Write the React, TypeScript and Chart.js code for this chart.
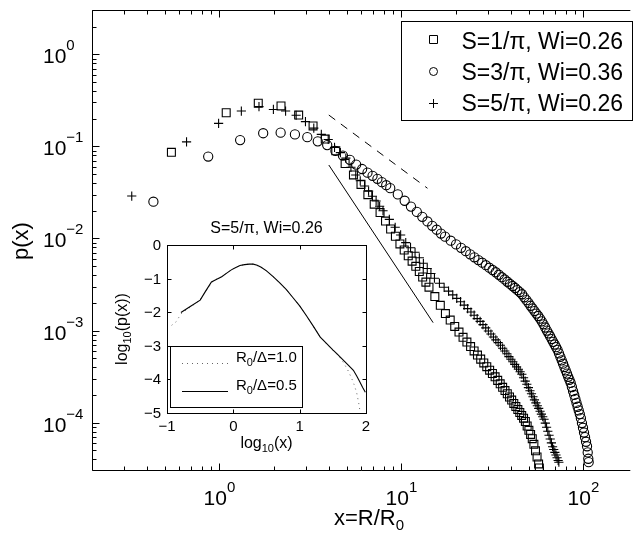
import React, { useEffect, useRef } from "react";
import { Chart, registerables } from "chart.js";

Chart.register(...registerables);

const FONT = '"Liberation Sans", Arial, Helvetica, sans-serif';

// ---- main panel: p(x) for three runs ----
const squareX = [0.545, 1.09, 1.635, 2.18, 2.725, 3.27, 3.815, 4.36, 4.905, 5.45, 5.995, 6.54, 7.085, 7.63, 8.175, 8.72, 9.265, 9.81, 10.355, 10.9, 11.445, 11.99, 12.535, 13.08, 13.625, 14.17, 15.26, 16.35, 17.44, 18.53, 19.62, 20.71, 21.8, 22.89, 23.98, 25.07, 26.16, 27.25, 28.34, 29.43, 30.52, 31.61, 32.7, 33.79, 34.88, 35.97, 37.06, 38.15, 39.24, 40.33, 41.42, 42.51, 43.6, 44.69, 45.78, 46.87, 47.96, 49.05, 50.14, 51.23, 52.32, 53.41, 54.5, 55.59, 56.68, 57.23];
const squareP = [0.0863, 0.232, 0.294, 0.275, 0.219, 0.167, 0.12, 0.0897, 0.0652, 0.049, 0.0387, 0.0299, 0.0236, 0.0191, 0.01545, 0.01268, 0.01057, 0.00873, 0.0075, 0.0065, 0.00568, 0.00499, 0.00438, 0.00382, 0.00336, 0.00296, 0.00234, 0.00188, 0.00153, 0.0013, 0.00111, 0.000964, 0.000845, 0.00075, 0.00067, 0.000601, 0.000542, 0.00049, 0.000446, 0.000406, 0.000372, 0.000342, 0.000315, 0.000288, 0.000264, 0.000242, 0.000223, 0.000206, 0.00019, 0.000176, 0.000162, 0.00015, 0.000139, 0.000129, 0.00012, 0.000112, 0.000103, 0.000092, 0.0000826, 0.0000745, 0.0000671, 0.0000582, 0.0000495, 0.0000424, 0.0000357, 0.0000323];

const circleX = [0.434, 0.868, 1.3, 1.74, 2.17, 2.6, 3.04, 3.47, 3.91, 4.34, 4.77, 5.21, 5.64, 6.08, 6.51, 6.94, 7.38, 7.81, 8.25, 8.68, 9.55, 10.42, 11.28, 12.15, 13.02, 13.89, 14.76, 15.62, 16.49, 17.36, 18.66, 19.96, 21.27, 22.57, 23.87, 25.17, 26.47, 27.78, 29.08, 30.38, 31.68, 32.98, 34.29, 35.59, 36.89, 38.19, 39.49, 40.8, 42.1, 43.4, 44.7, 46.0, 47.31, 48.61, 49.91, 51.21, 52.51, 53.82, 55.12, 56.42, 57.72, 59.02, 60.33, 61.63, 62.93, 64.23, 65.53, 66.84, 68.14, 69.44, 70.74, 72.04, 73.35, 74.65, 75.95, 77.25, 78.55, 79.86, 81.16, 82.46, 83.76, 85.06, 86.37, 87.67, 88.97, 90.27, 91.57, 92.88, 94.18, 95.48, 96.78, 98.08, 99.39, 100.7, 102.0, 103.3, 104.6, 105.5, 106.3, 106.8];
const circleP = [0.0251, 0.0776, 0.117, 0.139, 0.141, 0.135, 0.126, 0.1135, 0.1033, 0.0893, 0.0794, 0.0714, 0.0634, 0.0568, 0.0519, 0.0479, 0.0444, 0.0409, 0.0379, 0.0352, 0.0301, 0.0257, 0.0222, 0.01945, 0.01718, 0.01531, 0.01374, 0.01245, 0.01132, 0.01047, 0.00946, 0.00863, 0.00791, 0.00728, 0.00673, 0.00625, 0.00583, 0.00546, 0.00513, 0.00482, 0.00455, 0.0043, 0.00404, 0.0038, 0.00359, 0.00339, 0.00321, 0.00305, 0.0029, 0.00275, 0.00262, 0.00248, 0.0023, 0.00214, 0.002, 0.00186, 0.00174, 0.00163, 0.00153, 0.00144, 0.00135, 0.00126, 0.00117, 0.00108, 0.001, 0.000933, 0.000869, 0.000809, 0.000755, 0.000706, 0.000661, 0.000619, 0.000566, 0.000519, 0.000475, 0.000437, 0.000402, 0.00037, 0.000341, 0.000315, 0.000292, 0.00027, 0.000244, 0.00022, 0.0002, 0.000181, 0.000164, 0.000149, 0.000136, 0.000124, 0.000112, 0.0000991, 0.0000881, 0.0000782, 0.0000697, 0.0000621, 0.0000555, 0.0000476, 0.0000406, 0.0000373];

const plusX = [0.33, 0.66, 0.99, 1.32, 1.65, 1.98, 2.31, 2.64, 2.97, 3.3, 3.63, 3.96, 4.29, 4.62, 4.95, 5.28, 5.61, 5.94, 6.27, 6.6, 6.93, 7.26, 7.59, 7.92, 8.58, 9.24, 9.9, 10.56, 11.22, 11.88, 12.54, 13.2, 13.86, 14.52, 15.18, 16.17, 17.16, 18.15, 19.14, 20.13, 21.12, 22.11, 23.1, 24.09, 25.08, 26.07, 27.06, 28.05, 29.04, 30.03, 31.02, 32.01, 33.0, 33.99, 34.98, 35.97, 36.96, 37.95, 38.94, 39.93, 40.92, 41.91, 42.9, 43.89, 44.88, 45.87, 46.86, 47.85, 48.84, 49.83, 50.82, 51.81, 52.8, 53.79, 54.78, 55.77, 56.76, 57.75, 58.74, 59.73, 60.72, 61.71, 62.7, 63.69, 64.68, 65.67, 66.66, 67.65, 68.64, 69.63, 70.62, 71.61, 72.6, 73.26];
const plusP = [0.0289, 0.112, 0.178, 0.242, 0.27, 0.252, 0.242, 0.218, 0.186, 0.158, 0.135, 0.119, 0.0977, 0.0855, 0.0745, 0.0593, 0.049, 0.0423, 0.0372, 0.0327, 0.0288, 0.0255, 0.0224, 0.02, 0.01614, 0.01324, 0.01092, 0.00902, 0.00794, 0.00708, 0.00618, 0.00538, 0.00472, 0.00417, 0.0037, 0.00327, 0.00295, 0.00268, 0.00244, 0.00224, 0.00206, 0.00189, 0.00173, 0.00159, 0.00147, 0.00135, 0.00126, 0.00116, 0.00107, 0.000991, 0.000918, 0.000851, 0.000793, 0.00074, 0.000692, 0.000644, 0.0006, 0.00056, 0.000522, 0.000489, 0.000458, 0.00043, 0.000404, 0.00038, 0.000358, 0.000336, 0.000308, 0.000283, 0.000261, 0.00024, 0.000222, 0.000206, 0.000191, 0.000177, 0.000164, 0.000153, 0.000143, 0.000133, 0.000124, 0.000116, 0.000109, 0.0000989, 0.0000893, 0.0000807, 0.0000731, 0.0000664, 0.0000603, 0.0000548, 0.0000511, 0.0000476, 0.0000445, 0.0000416, 0.0000389, 0.0000372];

// guide slopes
const dashedX = [3.99, 13.9];
const dashedP = [0.219, 0.0351];
const solidX = [3.99, 14.93];
const solidP = [0.0628, 0.00122];

const seriesLabels = ["S=1/\u03c0, Wi=0.26", "S=3/\u03c0, Wi=0.36", "S=5/\u03c0, Wi=0.26"];

const xMin = 0.1996;
const xMax = 176.3;
const yMin = 3.064e-5;
const yMax = 3.027;
const xMajorTicks = [1, 10, 100];
const xTickExp = ["0", "1", "2"];
const yMajorTicks = [1, 0.1, 0.01, 0.001, 0.0001];
const yTickExp = ["0", "\u22121", "\u22122", "\u22123", "\u22124"];

// ---- inset: log10 p vs log10 x for two resolutions ----
const insetSolidX = [-0.79, -0.65, -0.5, -0.42, -0.33, -0.25, -0.175, -0.1, -0.03, 0.03, 0.1, 0.17, 0.24, 0.3, 0.36, 0.42, 0.5, 0.6, 0.7, 0.8, 0.9, 1.0, 1.1, 1.2, 1.31, 1.4, 1.5, 1.56, 1.62, 1.68, 1.74, 1.81, 1.86, 1.9, 1.95, 1.99];
const insetSolidY = [-2.01, -1.83, -1.64, -1.38, -1.1, -1.02, -0.945, -0.838, -0.74, -0.68, -0.61, -0.585, -0.57, -0.57, -0.6, -0.66, -0.77, -0.94, -1.13, -1.33, -1.57, -1.81, -2.1, -2.4, -2.74, -2.92, -3.12, -3.23, -3.35, -3.47, -3.59, -3.73, -3.9, -4.05, -4.24, -4.38];
const insetDotX = [-0.93, -0.86, -0.79, -0.7, -0.6, -0.5, -0.4, -0.3, -0.2, -0.1, 0.0, 0.1, 0.2, 0.3, 0.4, 0.5, 0.6, 0.7, 0.8, 0.9, 1.0, 1.1, 1.2, 1.3, 1.4, 1.5, 1.6, 1.66, 1.72, 1.78, 1.82, 1.86, 1.89, 1.91];
const insetDotY = [-2.39, -2.28, -2.05, -1.92, -1.78, -1.63, -1.33, -1.06, -0.97, -0.83, -0.7, -0.61, -0.575, -0.57, -0.64, -0.77, -0.94, -1.13, -1.33, -1.57, -1.81, -2.1, -2.4, -2.71, -2.93, -3.13, -3.33, -3.5, -3.7, -3.95, -4.15, -4.4, -4.7, -4.95];
const insetXTicks = [-1, 0, 1, 2];
const insetYTicks = [0, -1, -2, -3, -4, -5];
const insetTitle = "S=5/\u03c0, Wi=0.26";

type Seg = { t: string; size: number; dy: number };

function drawSegs(ctx: CanvasRenderingContext2D, segs: Seg[], x: number, y: number, align: "left" | "center" | "right") {
  const widths = segs.map((s) => {
    ctx.font = `${s.size}px ${FONT}`;
    return ctx.measureText(s.t).width;
  });
  const total = widths.reduce((a, b) => a + b, 0);
  let cx = align === "left" ? x : align === "center" ? x - total / 2 : x - total;
  ctx.textAlign = "left";
  ctx.textBaseline = "alphabetic";
  segs.forEach((s, i) => {
    ctx.font = `${s.size}px ${FONT}`;
    ctx.fillText(s.t, cx, y + s.dy);
    cx += widths[i];
  });
}

function marker(ctx: CanvasRenderingContext2D, kind: string, cx: number, cy: number) {
  ctx.beginPath();
  if (kind === "rect") {
    ctx.rect(cx - 4, cy - 4, 8, 8);
  } else if (kind === "circle") {
    ctx.arc(cx, cy, 4, 0, Math.PI * 2);
  } else {
    ctx.moveTo(cx - 4.5, cy);
    ctx.lineTo(cx + 4.5, cy);
    ctx.moveTo(cx, cy - 4.5);
    ctx.lineTo(cx, cy + 4.5);
  }
  ctx.stroke();
}

const mainFrame = {
  id: "mainFrame",
  afterDraw(chart: any) {
    const { ctx, chartArea: a } = chart;
    const xs = chart.scales.x;
    const ys = chart.scales.y;
    ctx.save();
    ctx.strokeStyle = "#000";
    ctx.fillStyle = "#000";
    ctx.lineWidth = 1;
    const L = Math.round(a.left) + 0.5;
    const T = Math.round(a.top) + 0.5;
    const B = Math.round(a.bottom) + 0.5;
    const R = a.right + 2;
    ctx.beginPath();
    ctx.moveTo(R, T);
    ctx.lineTo(L, T);
    ctx.lineTo(L, B);
    ctx.lineTo(R, B);
    ctx.stroke();

    // inward ticks, decades plus 2..9 minors
    ctx.beginPath();
    for (let e = -6; e <= 3; e++) {
      for (let m = 1; m <= 9; m++) {
        const v = m * Math.pow(10, e);
        const len = m === 1 ? 7 : 4;
        if (v >= xMin && v <= xMax) {
          const px = Math.round(xs.getPixelForValue(v)) + 0.5;
          ctx.moveTo(px, B);
          ctx.lineTo(px, B - len);
          ctx.moveTo(px, T);
          ctx.lineTo(px, T + len);
        }
        if (v >= yMin && v <= yMax) {
          const py = Math.round(ys.getPixelForValue(v)) + 0.5;
          ctx.moveTo(L, py);
          ctx.lineTo(L + len, py);
        }
      }
    }
    ctx.stroke();

    // tick labels
    xMajorTicks.forEach((v, i) => {
      const px = xs.getPixelForValue(v);
      drawSegs(ctx, [{ t: "10", size: 21, dy: 0 }, { t: xTickExp[i], size: 15, dy: -13 }], px, 505, "center");
    });
    yMajorTicks.forEach((v, i) => {
      const py = ys.getPixelForValue(v);
      drawSegs(ctx, [{ t: "10", size: 21, dy: 0 }, { t: yTickExp[i], size: 15, dy: -13 }], 43, py + 9, "left");
    });

    // axis titles
    drawSegs(ctx, [{ t: "x=R/R", size: 22, dy: 0 }, { t: "0", size: 15, dy: 5 }], 369, 525, "center");
    ctx.save();
    ctx.translate(28, 241);
    ctx.rotate(-Math.PI / 2);
    drawSegs(ctx, [{ t: "p(x)", size: 22, dy: 0 }], 0, 0, "center");
    ctx.restore();

    // legend
    ctx.fillStyle = "#fff";
    ctx.fillRect(401.5, 21.5, 231, 99);
    ctx.strokeRect(401.5, 21.5, 231, 99);
    ctx.fillStyle = "#000";
    const kinds = ["rect", "circle", "cross"];
    const rowMarkY = [39.5, 71.5, 103.5];
    const rowTextY = [48.5, 80, 111];
    kinds.forEach((k, i) => {
      marker(ctx, k, 433.5, rowMarkY[i]);
      drawSegs(ctx, [{ t: seriesLabels[i], size: 23, dy: 0 }], 461.5, rowTextY[i], "left");
    });
    ctx.restore();
  },
};

const insetFrame = {
  id: "insetFrame",
  beforeDraw(chart: any) {
    const { ctx, chartArea: a } = chart;
    ctx.save();
    ctx.fillStyle = "#fff";
    ctx.fillRect(a.left, a.top, a.right - a.left, a.bottom - a.top);
    ctx.restore();
  },
  afterDraw(chart: any) {
    const { ctx, chartArea: a } = chart;
    const xs = chart.scales.x;
    const ys = chart.scales.y;
    ctx.save();
    ctx.strokeStyle = "#000";
    ctx.fillStyle = "#000";
    ctx.lineWidth = 1;
    const L = Math.round(a.left) + 0.5;
    const T = Math.round(a.top) + 0.5;
    const B = Math.round(a.bottom) + 0.5;
    const R = Math.round(a.right) + 0.5;
    ctx.strokeRect(L, T, R - L, B - T);
    ctx.beginPath();
    insetXTicks.forEach((v) => {
      const px = Math.round(xs.getPixelForValue(v)) + 0.5;
      ctx.moveTo(px, B);
      ctx.lineTo(px, B - 4);
      ctx.moveTo(px, T);
      ctx.lineTo(px, T + 4);
    });
    insetYTicks.forEach((v) => {
      const py = Math.round(ys.getPixelForValue(v)) + 0.5;
      ctx.moveTo(L, py);
      ctx.lineTo(L + 4, py);
      ctx.moveTo(R, py);
      ctx.lineTo(R - 4, py);
    });
    ctx.stroke();

    const fmt = (v: number) => (v < 0 ? "\u2212" + Math.abs(v) : String(v));
    insetXTicks.forEach((v) => {
      drawSegs(ctx, [{ t: fmt(v), size: 15, dy: 0 }], xs.getPixelForValue(v), 219, "center");
    });
    insetYTicks.forEach((v) => {
      drawSegs(ctx, [{ t: fmt(v), size: 15, dy: 0 }], 53, ys.getPixelForValue(v) + 5, "right");
    });

    const midX = (a.left + a.right) / 2;
    drawSegs(ctx, [{ t: insetTitle, size: 16, dy: 0 }], midX, 21, "center");
    drawSegs(
      ctx,
      [
        { t: "log", size: 16, dy: 0 },
        { t: "10", size: 11, dy: 4 },
        { t: "(x)", size: 16, dy: 0 },
      ],
      midX,
      236,
      "center"
    );
    ctx.save();
    ctx.translate(18.5, (a.top + a.bottom) / 2);
    ctx.rotate(-Math.PI / 2);
    drawSegs(
      ctx,
      [
        { t: "log", size: 16, dy: 0 },
        { t: "10", size: 11, dy: 4 },
        { t: "(p(x))", size: 16, dy: 0 },
      ],
      0,
      0,
      "center"
    );
    ctx.restore();

    // legend
    ctx.fillStyle = "#fff";
    ctx.fillRect(62.5, 134.5, 132, 61);
    ctx.strokeRect(62.5, 134.5, 132, 61);
    ctx.fillStyle = "#000";
    ctx.save();
    ctx.strokeStyle = "#666";
    ctx.setLineDash([1, 4]);
    ctx.beginPath();
    ctx.moveTo(74, 151.5);
    ctx.lineTo(120, 151.5);
    ctx.stroke();
    ctx.restore();
    ctx.beginPath();
    ctx.moveTo(74, 179.5);
    ctx.lineTo(120, 179.5);
    ctx.stroke();
    const legRows = ["1.0", "0.5"];
    const legY = [150, 178];
    legRows.forEach((r, i) => {
      drawSegs(
        ctx,
        [
          { t: "R", size: 15, dy: 0 },
          { t: "0", size: 11, dy: 4 },
          { t: "/\u0394=" + r, size: 15, dy: 0 },
        ],
        128,
        legY[i],
        "left"
      );
    });
    ctx.restore();
  },
};

const pts = (xs: number[], ys: number[]) => xs.map((x, i) => ({ x, y: ys[i] }));

export default function App() {
  const mainRef = useRef<HTMLCanvasElement>(null);
  const insetRef = useRef<HTMLCanvasElement>(null);

  useEffect(() => {
    Chart.defaults.font.family = FONT;
    const markerSet = (style: string, radius: number) => ({
      showLine: false,
      pointStyle: style,
      pointRadius: radius,
      pointHoverRadius: radius,
      pointBorderColor: "#000",
      pointBackgroundColor: "rgba(0,0,0,0)",
      pointBorderWidth: 1.1,
      borderColor: "#000",
      backgroundColor: "rgba(0,0,0,0)",
    });
    const main = new Chart(mainRef.current as HTMLCanvasElement, {
      type: "scatter",
      data: {
        datasets: [
          { label: seriesLabels[0], data: pts(squareX, squareP), ...markerSet("rect", 5.6) },
          { label: seriesLabels[2], data: pts(plusX, plusP), ...markerSet("cross", 4.6) },
          { label: seriesLabels[1], data: pts(circleX, circleP), ...markerSet("circle", 4.6) },
          {
            label: "slope a",
            data: pts(dashedX, dashedP),
            showLine: true,
            pointRadius: 0,
            borderColor: "#000",
            borderWidth: 1,
            borderDash: [8, 7],
          },
          {
            label: "slope b",
            data: pts(solidX, solidP),
            showLine: true,
            pointRadius: 0,
            borderColor: "#000",
            borderWidth: 1,
          },
        ] as any,
      },
      options: {
        animation: false,
        responsive: false,
        devicePixelRatio: 1,
        events: [],
        layout: { padding: { left: 92, top: 10, right: 0, bottom: 63 } },
        plugins: { legend: { display: false }, tooltip: { enabled: false }, title: { display: false } },
        scales: {
          x: { type: "logarithmic", min: xMin, max: xMax, display: false },
          y: { type: "logarithmic", min: yMin, max: yMax, display: false },
        },
      },
      plugins: [mainFrame],
    });

    const inset = new Chart(insetRef.current as HTMLCanvasElement, {
      type: "scatter",
      data: {
        datasets: [
          {
            label: "R0/\u0394=0.5",
            data: pts(insetSolidX, insetSolidY),
            showLine: true,
            pointRadius: 0,
            borderColor: "#000",
            borderWidth: 1.1,
          },
          {
            label: "R0/\u0394=1.0",
            data: pts(insetDotX, insetDotY),
            showLine: true,
            pointRadius: 0,
            borderColor: "#666",
            borderWidth: 1,
            borderDash: [1, 4],
          },
        ] as any,
      },
      options: {
        animation: false,
        responsive: false,
        devicePixelRatio: 1,
        events: [],
        layout: { padding: { left: 59, top: 33, right: 6, bottom: 45 } },
        plugins: { legend: { display: false }, tooltip: { enabled: false } },
        scales: {
          x: { type: "linear", min: -1, max: 2, display: false },
          y: { type: "linear", min: -5, max: 0, display: false },
        },
      },
      plugins: [insetFrame],
    });

    return () => {
      main.destroy();
      inset.destroy();
    };
  }, []);

  return (
    <div style={{ position: "absolute", left: 0, top: 0, width: 635, height: 533, overflow: "hidden", background: "#fff" }}>
      <canvas ref={mainRef} width={635} height={533} style={{ position: "absolute", left: 0, top: 0, width: 635, height: 533 }} />
      <canvas ref={insetRef} width={264} height={246} style={{ position: "absolute", left: 108, top: 212, width: 264, height: 246 }} />
    </div>
  );
}
